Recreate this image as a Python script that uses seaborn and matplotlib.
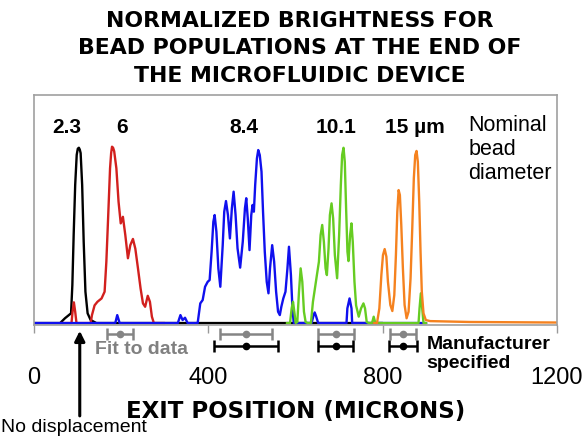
import numpy as np
import pandas as pd
import matplotlib
matplotlib.use('Agg')
import matplotlib.pyplot as plt
import seaborn as sns

sns.set_style('white')
plt.rcParams['font.family'] = ['Liberation Sans', 'DejaVu Sans']
plt.rcParams['text.color'] = 'black'
plt.rcParams['axes.labelcolor'] = 'black'
plt.rcParams['xtick.labelcolor'] = 'black'

# 곡선 데이터: (exit position [um], normalized brightness)
bead_2_3 = [(0, 0), (60, 0), (71, 0.027), (78, 0.041), (85, 0.055), (88, 0.215), (91, 0.497),
            (94.5, 0.78), (98, 0.95), (100.5, 0.985), (103, 0.99), (105, 0.98), (107, 0.96),
            (110.5, 0.78), (114, 0.46), (118, 0.177), (123, 0.055), (130, 0.017), (143, 0), (800, 0)]

bead_6 = [(60, 0), (86, 0), (88.5, 0.064), (91.5, 0.117), (94.5, 0.064), (97.5, 0), (130, 0),
          (133, 0.045), (139, 0.10), (145.5, 0.12), (155, 0.139), (162, 0.177), (166, 0.346),
          (170, 0.59), (174.5, 0.874), (177, 0.96), (179, 0.996), (181.5, 0.99), (184, 0.97),
          (189, 0.874), (194, 0.685), (199, 0.563), (204, 0.60), (209.5, 0.497), (215.5, 0.366),
          (221, 0.44), (227, 0.475), (232.5, 0.42), (238.5, 0.31), (244.5, 0.196), (250, 0.111),
          (255, 0.092), (261, 0.154), (266, 0.12), (270.5, 0.036), (275, 0), (300, 0)]

bead_8_4 = [(0, 0), (186.5, 0), (191, 0.045), (196.5, 0), (330, 0), (336, 0.045), (341, 0.017),
            (346.5, 0.03), (352.5, 0), (375.5, 0), (381.5, 0.111), (387, 0.13), (392.5, 0.205),
            (398.5, 0.233), (403, 0.243), (407.5, 0.403), (411.5, 0.572), (414.5, 0.61),
            (418.5, 0.516), (423, 0.309), (427.5, 0.205), (433, 0.44), (436.5, 0.629),
            (440.5, 0.689), (445, 0.61), (449.5, 0.478), (454, 0.648), (458, 0.742), (462.5, 0.61),
            (467, 0.422), (473, 0.313), (479, 0.459), (484, 0.648), (487, 0.705), (490.5, 0.59),
            (494.5, 0.412), (498.5, 0.61), (501.5, 0.667), (504.5, 0.629), (507.5, 0.78),
            (511.5, 0.93), (514.5, 0.977), (518, 0.949), (522, 0.855), (525.5, 0.629),
            (529.5, 0.403), (534, 0.233), (538, 0.168), (541.5, 0.309), (546.5, 0.44),
            (551, 0.346), (555.5, 0.177), (560, 0.064), (564, 0.045), (567.5, 0.092), (572, 0.139),
            (577, 0.177), (581.5, 0.309), (585, 0.431), (589.5, 0.271), (593, 0.083), (596, 0),
            (637, 0), (641, 0.04), (644, 0.06), (647, 0.04), (652, 0), (717, 0), (719, 0.083),
            (724, 0.139), (728.5, 0.083), (730, 0), (900, 0)]

bead_10_1 = [(580, 0), (587.4, 0), (591.2, 0.083), (594.3, 0.12), (597.3, 0.064), (600.4, 0),
             (604.2, 0.006), (608, 0.177), (611.8, 0.309), (615.6, 0.233), (619.4, 0.064),
             (623.2, 0.006), (627.8, 0), (635.4, 0), (640, 0.12), (644.6, 0.196), (649.1, 0.271),
             (653.7, 0.346), (657.6, 0.497), (661.3, 0.554), (665.1, 0.459), (669, 0.309),
             (672, 0.271), (675.8, 0.422), (678.9, 0.61), (682.7, 0.676), (686.4, 0.59),
             (690.3, 0.384), (695.5, 0.253), (700.1, 0.497), (704, 0.78), (707, 0.949),
             (710.2, 0.99), (713.1, 0.911), (716.1, 0.648), (719.2, 0.403), (721.6, 0.35),
             (725.3, 0.497), (728.4, 0.563), (731.4, 0.459), (735.3, 0.233), (739, 0.10),
             (745.1, 0.036), (750.4, 0.083), (755.9, 0.111), (759.5, 0.083), (763.4, 0.006),
             (768, 0), (775.6, 0), (779.4, 0.036), (783.2, 0), (882.3, 0), (884.6, 0.083),
             (887.6, 0.168), (890.7, 0.083), (893.7, 0), (900, 0)]

bead_15 = [(780, 0), (787, 0), (792.4, 0.083), (797, 0.271), (800.7, 0.384), (804.6, 0.418),
           (808.5, 0.375), (812.1, 0.233), (817.6, 0.102), (822.2, 0.068), (826.7, 0.158),
           (830.4, 0.384), (833.6, 0.629), (836.6, 0.751), (839.5, 0.723), (842.7, 0.554),
           (846.4, 0.309), (850.3, 0.102), (854.9, 0.027), (859.4, 0.064), (864, 0.253),
           (867.9, 0.535), (871.5, 0.818), (874.7, 0.949), (877.7, 0.972), (880.7, 0.911),
           (883.9, 0.685), (886.9, 0.403), (889.8, 0.177), (893.7, 0.055), (899, 0.017),
           (909, 0.011), (1000, 0.006), (1200, 0.003)]

# 직경 라벨과 위치
size_labels = ['2.3', '6', '8.4', '10.1', '15 \u00b5m']
size_label_x = [75, 203, 482, 693, 875]

# 에러바 (중심, 반폭)
fit_centers = [198, 486, 692, 846]
fit_halfw = [30, 59.5, 41.5, 30]
mfr_centers = [486, 692, 846]
mfr_halfw = [73, 40.5, 32]

xticks = [0, 400, 800, 1200]

curves = [
    (bead_2_3, '#000000'),
    (bead_6, '#d2201e'),
    (bead_8_4, '#1010ee'),
    (bead_10_1, '#66cc22'),
    (bead_15, '#f5821f'),
]

fig = plt.figure(figsize=(5.87, 4.36), dpi=100)
ax = fig.add_axes([34 / 587, 1 - 325 / 436, 523 / 587, 230 / 436])

for pts, color in curves:
    df = pd.DataFrame(pts, columns=['x', 'y'])
    sns.lineplot(data=df, x='x', y='y', color=color, lw=1.7, ax=ax,
                 sort=False, estimator=None)

ax.set_xlim(0, 1200)
ax.set_ylim(-0.011, 1.288)
ax.set_yticks([])
ax.set_ylabel('')
ax.set_xticks(xticks)
ax.set_xticklabels([str(t) for t in xticks])
ax.tick_params(axis='x', direction='out', length=6, width=1, color='#999999',
               labelsize=17, pad=24, bottom=True)
for sp in ax.spines.values():
    sp.set_color('#a0a0a0')
    sp.set_linewidth(1.2)

ax.set_xlabel('EXIT POSITION (MICRONS)', family='DejaVu Sans', fontweight='bold',
              fontsize=16.5, labelpad=8)

# 상단 직경 라벨
for lab, x in zip(size_labels, size_label_x):
    ax.text(x, 1.107, lab, ha='center', va='center', fontsize=15, fontweight='bold')
ax.text(996, 1.175, 'Nominal\nbead\ndiameter', ha='left', va='top', fontsize=15.5,
        linespacing=1.2)

# 에러바
def draw_bars(centers, halfw, y, color):
    eb = ax.errorbar(centers, [y] * len(centers), xerr=halfw, fmt='o', color=color,
                     ms=4.5, elinewidth=1.8, capsize=4, capthick=1.8)
    for art in eb.get_children():
        art.set_clip_on(False)

draw_bars(fit_centers, fit_halfw, -0.062, '#858585')
draw_bars(mfr_centers, mfr_halfw, -0.130, '#000000')

ax.text(247, -0.147, 'Fit to data', ha='center', va='center', fontsize=14,
        fontweight='bold', color='#808080', clip_on=False)
ax.text(900, -0.073, 'Manufacturer\nspecified', ha='left', va='top', fontsize=14,
        fontweight='bold', linespacing=1.13, clip_on=False)

# 화살표
ax.annotate('', xy=(105, -0.028), xytext=(105, -0.54), annotation_clip=False,
            arrowprops=dict(arrowstyle='-|>,head_length=0.6,head_width=0.3',
                            color='black', lw=2.2))
fig.text(0.002, 1 - 427 / 436, 'No displacement', ha='left', va='center', fontsize=14)

fig.text(300 / 587, 1 - 48.5 / 436,
         'NORMALIZED BRIGHTNESS FOR\nBEAD POPULATIONS AT THE END OF\nTHE MICROFLUIDIC DEVICE',
         ha='center', va='center', family='DejaVu Sans', fontweight='bold', fontsize=15.8,
         linespacing=1.48, multialignment='center')

fig.savefig('out.png', dpi=100)
